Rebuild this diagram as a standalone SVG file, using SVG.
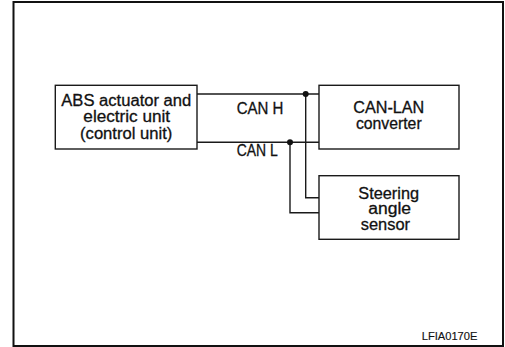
<svg xmlns="http://www.w3.org/2000/svg" width="505" height="347" viewBox="0 0 505 347">
<style>
.box{fill:#fff;stroke:#1a1a1a;stroke-width:1.4}
.wire{fill:none;stroke:#1a1a1a;stroke-width:1.4}
text{font-family:"Liberation Sans",Arial,sans-serif;font-size:16px;fill:#111;stroke:#111;stroke-width:0.3}
.c{text-anchor:middle}
</style>
<rect x="0" y="0" width="505" height="347" fill="#fff"/>
<rect id="frame" x="13.5" y="2" width="489.5" height="344" fill="none" stroke="#111" stroke-width="2"/>
<g id="connectors">
<path class="wire" d="M197 94 H319"/>
<path class="wire" d="M197 142.3 H319"/>
<path class="wire" d="M305.7 94 V197.7 H319"/>
<path class="wire" d="M290 142.3 V212.7 H319"/>
<circle cx="305.7" cy="94" r="3" fill="#111"/>
<circle cx="290" cy="142.3" r="3" fill="#111"/>
<text x="236.7" y="114" textLength="46.7" lengthAdjust="spacingAndGlyphs">CAN H</text>
<text x="236.7" y="156" textLength="41" lengthAdjust="spacingAndGlyphs">CAN L</text>
</g>
<g id="abs">
<rect class="box" x="55.3" y="85.3" width="141.7" height="63.7"/>
<text class="c" x="126.3" y="106" textLength="130" lengthAdjust="spacingAndGlyphs">ABS actuator and</text>
<text class="c" x="126.7" y="122.3" textLength="86.7" lengthAdjust="spacingAndGlyphs">electric unit</text>
<text class="c" x="126.2" y="138.6" textLength="92.3" lengthAdjust="spacingAndGlyphs">(control unit)</text>
</g>
<g id="canlan">
<rect class="box" x="319" y="85.3" width="140" height="63.7"/>
<text class="c" x="388.8" y="113.3" textLength="71" lengthAdjust="spacingAndGlyphs">CAN-LAN</text>
<text class="c" x="388.8" y="129" textLength="65.7" lengthAdjust="spacingAndGlyphs">converter</text>
</g>
<g id="steering">
<rect class="box" x="319" y="175.7" width="140" height="63.6"/>
<text class="c" x="388.7" y="198.8" textLength="60.7" lengthAdjust="spacingAndGlyphs">Steering</text>
<text class="c" x="389.7" y="214" textLength="42.7" lengthAdjust="spacingAndGlyphs">angle</text>
<text class="c" x="385.4" y="230" textLength="49.3" lengthAdjust="spacingAndGlyphs">sensor</text>
</g>
<text id="code" x="421.7" y="340" style="font-size:11px;stroke-width:0.15" textLength="55.7" lengthAdjust="spacingAndGlyphs">LFIA0170E</text>
</svg>
